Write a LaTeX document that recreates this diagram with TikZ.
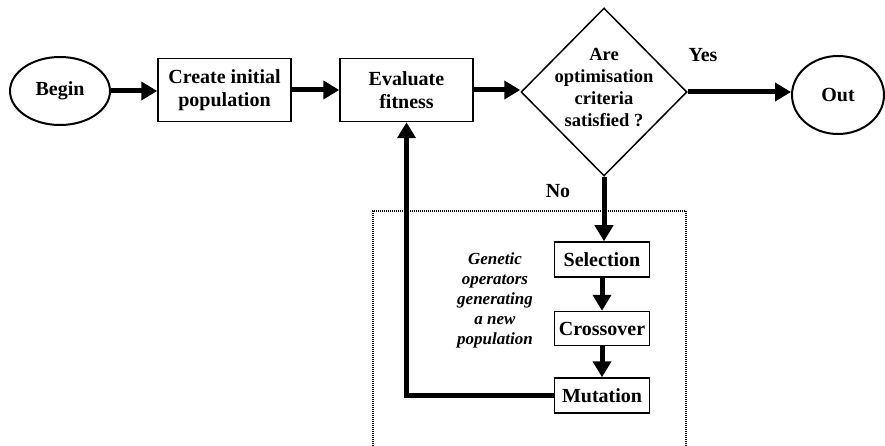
\documentclass[tikz,border=0pt]{standalone}
\usepackage{fontspec}
\setmainfont{Liberation Serif}
\usetikzlibrary{shapes.geometric,arrows.meta}
\begin{document}
\begin{tikzpicture}[x=1pt,y=-1pt,
  every node/.style={font=\bfseries\fontsize{20}{23}\selectfont, align=center, inner sep=0pt},
  box/.style={draw, line width=1.5pt, rectangle},
  oval/.style={draw, line width=2pt, ellipse},
  dia/.style={draw, line width=1.5pt, diamond},
  arr/.style={line width=5pt, -{Triangle[length=16pt,width=18pt]}},
  plain/.style={line width=5pt},
  note/.style={font=\bfseries\itshape\fontsize{17}{20}\selectfont}
  ]
\useasboundingbox (0,0) rectangle (885,446);
% dotted region
\draw[line width=1.3pt, dash pattern=on 1pt off 1pt] (373,446) -- (373,211) -- (686,211) -- (686,446);

\node[oval, minimum width=100pt, minimum height=68pt] (begin) at (60,91) {Begin};
\node[box, minimum width=133pt, minimum height=63pt] (create) at (224.5,90) {Create initial\\population};
\node[box, minimum width=133pt, minimum height=63pt] (eval) at (406.5,90) {Evaluate\\fitness};
\node[dia, minimum width=166pt, minimum height=168pt] (dec) at (604,92) {};
\node[font=\bfseries\fontsize{18.5}{22}\selectfont] (dectxt) at (604,88) {Are\\optimisation\\criteria\\satisfied ?};
\node[oval, minimum width=92pt, minimum height=78pt] (out) at (838,95) {Out};
\node (yes) at (703,55) {Yes};
\node (no) at (558,191) {No};

\node[box, minimum width=95pt, minimum height=35pt] (sel) at (602,259.5) {Selection};
\node[box, minimum width=95pt, minimum height=34pt] (cro) at (602,328.5) {Crossover};
\node[box, minimum width=95pt, minimum height=35pt] (mut) at (602,395.5) {Mutation};
\node[note] (gen) at (495,300) {Genetic\\operators\\generating\\a new\\population};

\draw[arr] (begin.east) -- (begin.east -| create.west);
\draw[arr] (create.east) -- (eval.west);
\draw[arr] (eval.east) -- (eval.east -| dec.west);
\draw[arr] (dec.east) -- (dec.east -| out.west);
\draw[arr] (dec.south) -- (dec.south |- sel.north);
\draw[arr] (sel.south) -- (cro.north);
\draw[arr] (cro.south) -- (mut.north);
\draw[arr] (mut.west) -| (eval.south);
\end{tikzpicture}
\end{document}
